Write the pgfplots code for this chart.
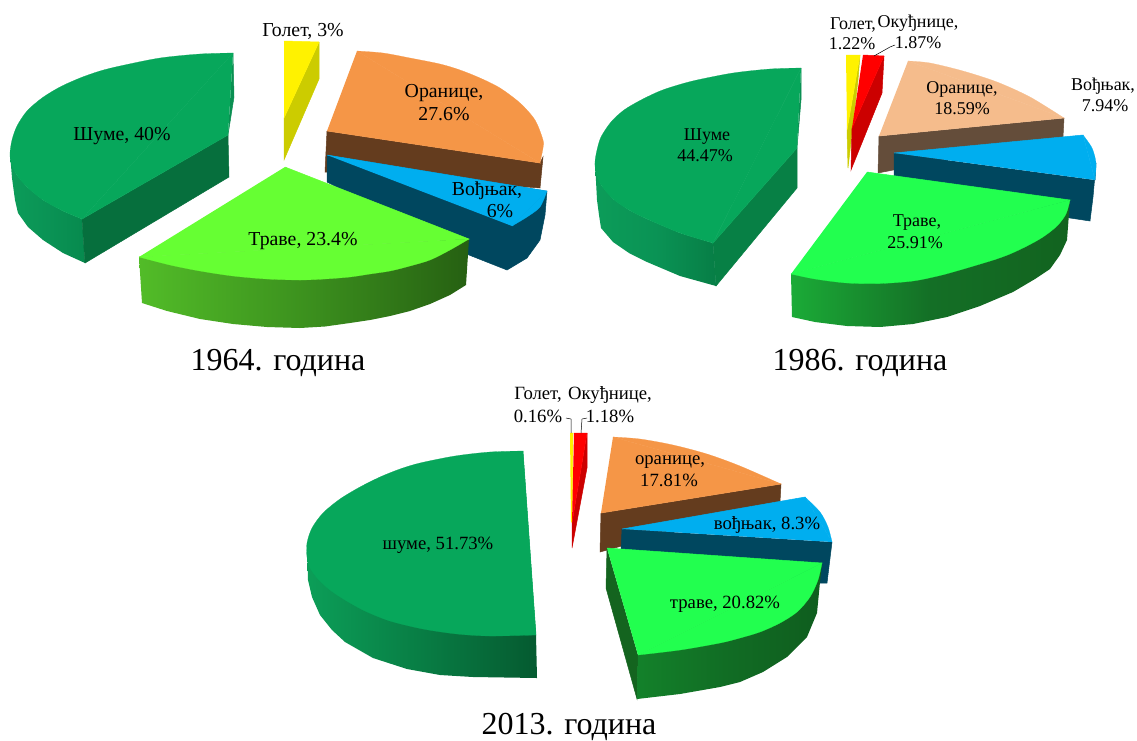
\documentclass[border=0pt]{standalone}
\usepackage{pgfplots}
\pgfplotsset{compat=1.18}
\usepackage{fontspec}
\setmainfont{Liberation Serif}
\definecolor{gtop}{HTML}{07A75B}
\definecolor{gdark}{HTML}{066F3D}
\definecolor{gsl}{HTML}{0A8F52}
\definecolor{otop}{HTML}{F59647}
\definecolor{obr}{HTML}{643C1E}
\definecolor{otop2}{HTML}{F5BC8C}
\definecolor{obr2}{HTML}{644D3A}
\definecolor{btop}{HTML}{00AEEF}
\definecolor{bdk}{HTML}{00475F}
\definecolor{lt}{HTML}{66FF33}
\definecolor{nt}{HTML}{22FF4F}
\definecolor{ydk}{HTML}{CCCC00}
\definecolor{rdk}{HTML}{CC0000}
\definecolor{gr3}{HTML}{14641F}
\definecolor{gr2}{HTML}{078045}
\definecolor{a1}{HTML}{0C9C59}\definecolor{b1}{HTML}{078A4E}\definecolor{c1}{HTML}{0A9355}
\definecolor{a2}{HTML}{52BC28}\definecolor{b2}{HTML}{266012}\definecolor{c2}{HTML}{3C911E}
\definecolor{a3}{HTML}{0C9C59}\definecolor{b3}{HTML}{077E46}\definecolor{c3}{HTML}{0A9355}
\definecolor{a4}{HTML}{1BAB37}\definecolor{b4}{HTML}{12631F}\definecolor{c4}{HTML}{146F26}
\definecolor{a5}{HTML}{0C9E58}\definecolor{b5}{HTML}{055A30}\definecolor{c5}{HTML}{087D44}
\definecolor{a6}{HTML}{13812A}\definecolor{b6}{HTML}{0F5D1E}\definecolor{c6}{HTML}{116C24}
\newcommand{\poly}[2]{\addplot[fill=#1,draw=#1,line width=0.5pt,mark=none,forget plot] coordinates {#2};}
\newcommand{\arcf}[2]{\addplot[fill=#1,draw=#1,line width=0.2pt,smooth,mark=none,forget plot] coordinates {#2};}
\newcommand{\shd}[2]{\addplot[left color=a#1,right color=b#1,middle color=c#1,draw=none,mark=none,forget plot] coordinates {#2};}
\newcommand{\lbl}[4][19.8]{\node[inner sep=0pt,yshift=-2pt,font=\fontsize{#1}{#1}\selectfont] at (axis cs:#2,#3) {#4};}
\begin{document}
\begin{tikzpicture}
\path (0,0) rectangle (1137pt,737pt);
\begin{axis}[at={(0,0)},anchor=south west,hide axis,scale only axis,width=1137pt,height=737pt,xmin=0,xmax=1137,ymin=0,ymax=737,y dir=reverse,clip=false]
% ---- 1964 ----
\shd{1}{(10,153)(12,178)(15,200)(18,213)(28,227)(43,240)(63,253)(85,263)(82,219)(63,211)(43,200)(27,187)(16,174)}
\poly{gdark}{(82,219)(85,263)(229,177)(228,135)}
\poly{gsl}{(233,53)(234,97)(228,135)}
\arcf{gtop}{(233,53)(200,54)(160,58)(120,66)(100,71)(80,78)(60,87)(42,98)(27,111)(17,126)(12,140)(10,153)(11,163)(16,174)(27,187)(43,200)(63,211)(82,219)}
\poly{gtop}{(233,53)(82,219)(228,135)}
\poly{ydk}{(319,42)(319,79)(284,160)(284,118)}
\poly{yellow}{(284,41)(319,42)(284,118)}
\poly{obr}{(327,131)(325,172)(540,188)(543,157)(540,163)}
\arcf{otop}{(357,51)(383,53)(410,58)(440,64)(460,70)(480,78)(500,88)(520,103)(535,120)(543,140)(543,148)(540,163)}
\poly{otop}{(357,51)(540,163)(327,131)}
\poly{bdk}{(327,155)(327,182)(469,255)(507,270)(527,258)(540,240)(545,215)(547,191)}
\arcf{btop}{(547,191)(540,207)(527,217)(512,226)}
\poly{btop}{(327,155)(547,191)(512,226)}
\shd{2}{(139,257)(142,303)(167,311)(200,319)(233,324)(267,327)(300,328)(325,326.5)(350,323)(370,320)(390,316)(410,311)(430,304)(450,295)(466,285)(469,239)}
\arcf{lt}{(139,257)(170,265)(200,271)(233,276)(267,279)(300,280)(325,279)(350,277)(370,274)(390,271)(410,266)(430,260)(450,250)(469,239)}
\poly{lt}{(139,257)(469,239)(285,167)}
\lbl{303}{29}{Голет, 3\%}
\lbl{122}{134}{Шуме, 40\%}
\lbl{444}{91}{Оранице,}
\lbl{444}{112}{27.6\%}
\lbl{487}{189}{Вођњак,}
\lbl{500}{209}{6\%}
\lbl{303}{239}{Траве, 23.4\%}
\lbl[32]{278}{361}{1964. година}
% ---- 1986 ----
\shd{3}{(595,162)(597,200)(599,215)(601,228)(613,242)(629,253)(647,262)(680,276)(716,286)(713,243)(680,233)(647,219)(629,210)(613,199)(601,185)}
\poly{gr2}{(713,243)(716,286)(797,188)(797,148)}
\poly{gsl}{(801,68)(801,100)(797,148)}
\arcf{gtop}{(801,68)(770,69)(733,73)(697,80)(678,85)(660,91)(641,100)(624,110)(611,122)(601,137)(597,150)(595,162)(596,173)(601,185)(613,199)(629,210)(647,219)(680,233)(713,243)}
\poly{gtop}{(801,68)(713,243)(797,148)}
\poly{ydk}{(860,55)(858,80)(848,168)(847,130)}
\poly{yellow}{(846,55)(860,55)(847,130)}
\poly{rdk}{(884,56)(882,93)(851,170)(852,128)}
\poly{red}{(863,55)(884,56)(852,128)}
\addplot[black,line width=0.5pt,mark=none,forget plot] coordinates {(874,56)(890,47)(895,45)};
\poly{obr2}{(879,136)(878,173)(1063,137)(1064,118)}
\arcf{otop2}{(908,61)(930,63)(963,71)(997,82)(1030,97)(1064,118)}
\poly{otop2}{(908,61)(1064,118)(879,136)}
\poly{bdk}{(894,153)(894,177)(1070,218)(1090,221)(1093,197)(1096,163)(1095,180)}
\arcf{btop}{(1083,135)(1092,148)(1096,163)(1095,180)}
\poly{btop}{(894,153)(1083,135)(1095,180)}
\shd{4}{(791,274)(792,317)(815,322)(847,326)(880,327)(913,324)(947,317)(980,306)(1013,292)(1035,279)(1050,269)(1060,255)(1067,240)(1070,200)}
\arcf{nt}{(791,274)(815,279)(847,283)(880,283.5)(913,281)(940,275.5)(960,270)(977,265)(995,259.5)(1010,254)(1027,246)(1043,237)(1057,226)(1066,214)(1070,200)}
\poly{nt}{(791,274)(1070,200)(867,172)}
\lbl[18]{707}{135}{Шуме}
\lbl[18]{705}{154}{44.47\%}
\lbl[18]{853}{23}{Голет,}
\lbl[18]{852}{42}{1.22\%}
\lbl[18]{918}{21}{Окуђнице,}
\lbl[18]{918}{41}{1.87\%}
\lbl[18]{962}{87}{Оранице,}
\lbl[18]{962}{107}{18.59\%}
\lbl[18]{1103}{84}{Вођњак,}
\lbl[18]{1105}{104}{7.94\%}
\lbl[18]{917}{221}{Траве,}
\lbl[18]{915}{241}{25.91\%}
\lbl[32]{860}{361}{1986. година}
% ---- 2013 ----
\shd{5}{(307,545)(308,580)(312,597)(320,615)(332,630)(345,642)(373,658)(407,669)(440,675)(473,677)(537,678)(536,635)}
\poly{gsl}{(523,480)(524,490)(521,547)(518,537)}
\arcf{gtop}{(523,451)(490,452)(455,456)(420,463)(400,469)(380,477)(360,487)(340,499)(323,513)(312,528)(307,543)(307,557)(310,568)(318,579)(330,590)(345,600)(365,611)(390,621)(423,629)(457,634)(490,636)(536,635)}
\poly{gtop}{(523,451)(536,635)(521,547)}
\poly{yellow}{(570,433)(573,433)(572,522)(571,522)}
\poly{rdk}{(587,433)(587,468)(572,548)(572,523)}
\poly{red}{(574,433)(587,433)(572,523)}
\addplot[black,line width=0.5pt,mark=none,forget plot] coordinates {(571,433)(571,419)(566,418)};
\addplot[black,line width=0.5pt,mark=none,forget plot] coordinates {(581,433)(582,419)(587,418)};
\poly{obr}{(601,513)(600,552)(780,502)(781,484)}
\arcf{otop}{(613,437)(640,439)(673,445)(707,454)(740,466)(781,484)}
\poly{otop}{(613,437)(781,484)(601,513)}
\poly{bdk}{(622,529)(621,550)(820,583)(827,583)(832,542)}
\arcf{btop}{(805,497)(820,512)(828,527)(832,542)}
\poly{btop}{(622,529)(805,497)(832,542)}
\poly{gr3}{(607,548)(606,588)(637,699)(638,655)}
\shd{6}{(638,655)(637,699)(680,694)(720,687)(740,682)(763,672)(787,657)(807,637)(817,613)(820,582)(822,563)}
\arcf{nt}{(822,563)(818,580)(810,597)(797,612)(780,623)(760,632)(740,638)(720,643)(680,650)(638,655)}
\poly{nt}{(607,548)(822,563)(638,655)}
\lbl[18.7]{538}{393}{Голет,}
\lbl[18.7]{538}{414}{0.16\%}
\lbl[18.7]{610}{393}{Окуђнице,}
\lbl[18.7]{610}{414}{1.18\%}
\lbl[18.7]{438}{543}{шуме, 51.73\%}
\lbl[18.7]{670}{460}{оранице,}
\lbl[18.7]{669}{478}{17.81\%}
\lbl[18.7]{767}{523}{вођњак, 8.3\%}
\lbl[18.7]{725}{602}{траве, 20.82\%}
\lbl[32]{569}{725}{2013. година}
\end{axis}
\end{tikzpicture}
\end{document}
